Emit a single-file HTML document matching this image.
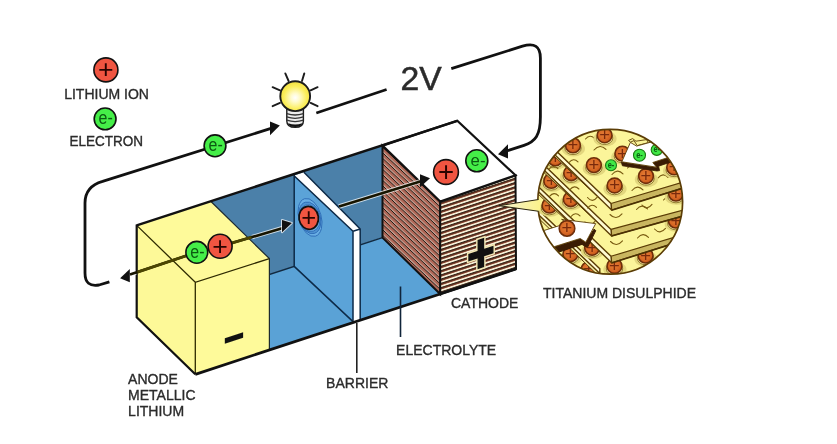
<!DOCTYPE html>
<html lang="en"><head><meta charset="utf-8"><title>Lithium battery</title>
<style>
html,body{margin:0;padding:0;background:#fff;}
body{width:837px;height:444px;overflow:hidden;}
svg{display:block;will-change:transform;}
text{font-family:"Liberation Sans",Arial,Helvetica,sans-serif;fill:#2b2b2b;}
.lbl{font-size:14px;stroke:#2b2b2b;stroke-width:0.35px;}
.ln{stroke:#111;fill:none;stroke-linejoin:miter;}
</style></head><body>
<svg width="837" height="444" viewBox="0 0 837 444">
<defs>
<radialGradient id="bulb" cx="0.5" cy="0.55" r="0.55">
<stop offset="0" stop-color="#ffffff"/><stop offset="0.25" stop-color="#fffbd0"/><stop offset="0.7" stop-color="#fbee5a"/><stop offset="1" stop-color="#f3e040"/>
</radialGradient>
<pattern id="stF" width="20" height="4.25" patternUnits="userSpaceOnUse" patternTransform="translate(440.2 200.6) skewY(-18.2)">
<rect width="20" height="4.25" fill="#87432f"/><rect y="0" width="20" height="1.9" fill="#f8f0d8"/><rect y="1.9" width="20" height="1.0" fill="#17150a"/>
</pattern>
<pattern id="stL" width="20" height="5.5" patternUnits="userSpaceOnUse" patternTransform="translate(382.5 147.6) skewY(43.2)">
<rect width="20" height="5.5" fill="#ad6656"/><rect y="3.4" width="20" height="1.0" fill="#f3e2d6"/><rect y="4.4" width="20" height="1.1" fill="#20150e"/>
</pattern>
<radialGradient id="ballg" cx="0.45" cy="0.42" r="0.6"><stop offset="0" stop-color="#e27c36"/><stop offset="0.6" stop-color="#d96a26"/><stop offset="1" stop-color="#c4541a"/></radialGradient>
<linearGradient id="wedge" x1="499" y1="0" x2="540" y2="0" gradientUnits="userSpaceOnUse"><stop offset="0" stop-color="#f3efc8"/><stop offset="0.5" stop-color="#f7f2b0"/><stop offset="1" stop-color="#fbf28c"/></linearGradient>
<clipPath id="cc"><circle cx="610.2" cy="201.8" r="72.4"/></clipPath>
</defs>
<rect width="837" height="444" fill="#fff"/>

<polygon points="210.7,201.2 382.5,145.6 382.5,237.6 210.7,293.7" fill="#4b80a9"/>
<polygon points="210.7,293.7 382.5,237.6 440.2,294.0 195.3,374.3" fill="#5aa2d6"/>
<polyline points="210.7,293.7 382.5,237.6" fill="none" stroke="#10283f" stroke-width="1.5"/>
<polygon points="294.2,176.0 353.0,231.2 353.0,321.6 294.2,266.4" fill="#5ba3d8"/>
<polygon points="294.2,175.4 297.2,174.4 303.9,172.2 360.2,229.0 360.2,320.0 353.0,322.0 353.0,231.2" fill="#fff"/>
<path d="M294.2,175 L294.2,266.4 L353,321.6 M294.6,176.2 L353,231.2 L353,321.8 M303.9,172.2 L360.2,229.0 L360.2,320 M353,231.2 L360.2,229.0" stroke="#0d2a48" stroke-width="1.5" fill="none" stroke-linejoin="round"/>
<g transform="rotate(-16 310 218.5)" fill="none" stroke="#2f6db6" stroke-width="0.9">
<ellipse cx="310.3" cy="217.5" rx="11.2" ry="19.5" fill="#69aee4"/>
<ellipse cx="310" cy="217.8" rx="10.6" ry="16.2" fill="#4f93d2"/>
<ellipse cx="309.6" cy="218" rx="10.2" ry="13.6" fill="#6db0e6"/>
</g>
<polygon points="382.5,145.6 440.2,201.6 440.2,294.0 382.5,237.6" fill="url(#stL)" stroke="#111" stroke-width="2"/>
<polygon points="440.2,201.6 515.5,175.3 516.0,269.0 440.2,294.0" fill="url(#stF)" stroke="#111" stroke-width="2"/>
<polygon points="382.5,145.6 457.3,120.8 515.5,175.3 440.2,201.6" fill="#fff" stroke="#111" stroke-width="2.2" stroke-linejoin="miter"/>
<g transform="translate(480.8 253.4) skewY(-18.2) scale(0.872 1)" font-weight="bold" font-size="54.5"><text x="-15.94" y="18.26" style="fill:#f3e8b4;stroke:#f3e8b4;stroke-width:4.8px;stroke-linejoin:miter">+</text><text x="-15.94" y="18.26" style="fill:#111;stroke:#111;stroke-width:1.6px;stroke-linejoin:miter">+</text></g>
<polygon points="136.7,225.4 210.7,201.2 269.4,258.6 269.4,349.9 195.3,374.3 136.7,317.4" fill="#fefa9a"/>
<polygon points="136.7,225.4 195.3,282.3 195.3,374.3 136.7,317.4" fill="#fdf998"/>
<path d="M136.7,225.4 L195.3,282.3 L269.4,258.6 M195.3,282.3 L195.3,374.3" stroke="#2e2a00" stroke-width="1.3" fill="none"/>
<path d="M210.7,201.2 L269.4,258.6 L269.4,349.9" stroke="#1c2a30" stroke-width="1.2" fill="none"/>
<path d="M136.7,224.4 L136.7,317.4 L195.3,374.3" stroke="#111" stroke-width="2.2" fill="none"/>
<g transform="translate(234.1 338) skewY(-18.2) scale(1.545 1)"><text x="-7.82" y="12.14" font-weight="bold" font-size="46.7" style="fill:#111">-</text></g>
<polyline class="ln" stroke-width="2.4" points="136.7,225.4 457.3,120.8"/>
<polyline class="ln" stroke-width="2.8" points="195.3,374.3 440.2,294.0 516.0,269.0"/>
<path class="ln" stroke-width="2.8" d="M109.4,281.8 L99,285 Q85,287.5 85,273 L85,203 Q85,186.5 102.6,181.4 L271,128.4"/>
<polygon points="279.8,125.5 270.0,121.6 270.0,135.2" fill="#111"/>
<path class="ln" stroke-width="2.8" d="M316.3,113.0 L386.6,89.5"/>
<path class="ln" stroke-width="2.8" d="M451.3,68.7 L522.5,46.2 Q540.4,40.6 540.4,58 L540.4,117 C540.4,135 535.5,141.5 524,145.4 L507.7,150.6"/>
<polygon points="498.0,154.3 508.0,144.3 508.0,158.5" fill="#111"/>
<line x1="252" y1="237.1" x2="283" y2="228" stroke="#fff" stroke-opacity="0.72" stroke-width="4.5"/>
<line x1="230" y1="243.6" x2="283" y2="228" stroke="#171500" stroke-width="2.6"/>
<line x1="230" y1="243.6" x2="251.5" y2="237.3" stroke="#4c4600" stroke-width="2.7"/>
<polygon points="291.8,222.9 282.0,220.0 282.0,232.2" fill="#111" stroke="#fff" stroke-opacity="0.72" stroke-width="2.0" stroke-linejoin="round"/>
<polygon points="291.8,222.9 282.0,220.0 282.0,232.2" fill="#111"/>
<line x1="339" y1="206.5" x2="421" y2="181.2" stroke="#fff" stroke-opacity="0.72" stroke-width="4.5"/>
<line x1="339" y1="206.5" x2="421" y2="181.2" stroke="#171500" stroke-width="2.6"/>
<polygon points="430.0,178.2 420.0,174.3 420.0,187.2" fill="#111"/>
<line x1="136" y1="272.6" x2="130" y2="274.6" stroke="#fff" stroke-opacity="0.72" stroke-width="4.5"/>
<line x1="190" y1="254.5" x2="130" y2="274.6" stroke="#171500" stroke-width="2.6"/>
<line x1="190" y1="254.5" x2="137.5" y2="272.1" stroke="#4c4600" stroke-width="2.7"/>
<polygon points="120.1,278.2 129.8,269.0 129.8,282.2" fill="#111"/>
<circle cx="105.9" cy="69.9" r="12.0" fill="#f05541" stroke="#111" stroke-width="1.6"/>
<text x="98.08" y="78.40" font-size="26.7" style="fill:#2a0400">+</text>
<circle cx="105.1" cy="118.9" r="10.9" fill="#45ee48" stroke="#111" stroke-width="1.6"/>
<text transform="translate(105.7 124.1) scale(1 1.1)" font-size="16" text-anchor="middle" style="fill:#0c5a12">e-</text>
<circle cx="215.0" cy="145.8" r="10.9" fill="#45ee48" stroke="#111" stroke-width="1.6"/>
<text transform="translate(215.6 151.0) scale(1 1.1)" font-size="16" text-anchor="middle" style="fill:#0c5a12">e-</text>
<circle cx="196.8" cy="252.3" r="10.9" fill="#45ee48" stroke="#111" stroke-width="1.6"/>
<text transform="translate(197.4 257.5) scale(1 1.1)" font-size="16" text-anchor="middle" style="fill:#0c5a12">e-</text>
<circle cx="220.1" cy="246.3" r="12.0" fill="#f05541" stroke="#111" stroke-width="1.6"/>
<text x="212.28" y="254.80" font-size="26.7" style="fill:#2a0400">+</text>
<ellipse cx="308.7" cy="217.9" rx="9.7" ry="11.5" transform="rotate(-10 308.7 217.9)" fill="#f05541" stroke="#111" stroke-width="1.7"/>
<text x="301.22" y="226.01" font-size="25.6" style="fill:#2a0400">+</text>
<circle cx="446" cy="172" r="12.4" fill="#f05541" stroke="#111" stroke-width="1.6"/>
<text x="437.92" y="180.80" font-size="27.6" style="fill:#2a0400">+</text>
<circle cx="476.8" cy="160.8" r="11.0" fill="#45ee48" stroke="#111" stroke-width="1.6"/>
<text transform="translate(478.0 165.9) scale(1 1.0)" font-size="16.8" text-anchor="middle" style="fill:#0c5a12">e-</text>
<g stroke="#1c1c1c" stroke-width="1.9" stroke-linecap="round" fill="none">
<line x1="285.3" y1="73.4" x2="288.6" y2="81.0"/>
<line x1="304.3" y1="73.4" x2="302.0" y2="81.0"/>
<line x1="272.6" y1="87.2" x2="280.0" y2="90.3"/>
<line x1="317.6" y1="87.2" x2="310.6" y2="90.3"/>
<line x1="272.6" y1="106.2" x2="280.0" y2="102.9"/>
<line x1="317.6" y1="106.2" x2="310.6" y2="102.9"/>
</g>
<path d="M286.8,108 L286.8,121 Q286.8,127.4 295.2,127.4 Q303.4,127.4 303.4,121 L303.4,108 Z" fill="#ececec" stroke="#1c1c1c" stroke-width="1.4"/>
<path d="M288.2,123.2 Q295.2,126 302.2,123.2 Q301.4,127 295.2,127 Q289,127 288.2,123.2 Z" fill="#111"/>
<g stroke="#333" stroke-width="1.3" fill="none"><path d="M286.8,113.6 Q295,116.4 303.4,113.6"/><path d="M286.8,116.9 Q295,119.7 303.4,116.9"/><path d="M286.8,120.2 Q295,123 303.4,120.2"/></g>
<circle cx="295.2" cy="96.2" r="14.9" fill="url(#bulb)" stroke="#1c1c1c" stroke-width="1.9"/>
<line x1="400.5" y1="286.5" x2="400.5" y2="337" stroke="#10243a" stroke-width="1.6"/>
<line x1="356.8" y1="323" x2="356.8" y2="373" stroke="#222" stroke-width="1.6"/>
<circle cx="610.2" cy="201.8" r="72.4" fill="#fbf59a"/>
<g clip-path="url(#cc)">
<rect x="530" y="120" width="160" height="160" fill="#fbf59a"/>
<ellipse cx="589.0" cy="272.8" rx="11.6" ry="7.8" fill="#e3d77e"/>
<ellipse cx="588.6" cy="272.2" rx="8.2" ry="6.4" fill="#f4eaa4" stroke="#7a6418" stroke-width="0.8"/>
<circle cx="588.6" cy="269.4" r="7.4" fill="url(#ballg)" stroke="#6e2e0a" stroke-width="1.6"/>
<text x="583.22" y="275.36" font-size="18.4" style="fill:#7a2a0c">+</text>
<ellipse cx="570.8" cy="257.6" rx="11.6" ry="7.8" fill="#e3d77e"/>
<ellipse cx="570.4" cy="257.0" rx="8.2" ry="6.4" fill="#f4eaa4" stroke="#7a6418" stroke-width="0.8"/>
<circle cx="570.4" cy="254.2" r="7.4" fill="url(#ballg)" stroke="#6e2e0a" stroke-width="1.6"/>
<text x="565.02" y="260.16" font-size="18.4" style="fill:#7a2a0c">+</text>
<polygon points="599.8,273.5 520,196.9 520,200.5 599.8,277.1" fill="#f6eda0" stroke="#5b3d06" stroke-width="1.0"/>
<polygon points="599.8,268.8 520,192.2 520,196.9 599.8,273.5" fill="#fffbd2" stroke="#5b3d06" stroke-width="1.4"/>
<ellipse cx="614.9" cy="269.4" rx="11.6" ry="7.8" fill="#e3d77e"/>
<ellipse cx="614.5" cy="268.8" rx="8.2" ry="6.4" fill="#f4eaa4" stroke="#7a6418" stroke-width="0.8"/>
<circle cx="614.5" cy="266.0" r="7.4" fill="url(#ballg)" stroke="#6e2e0a" stroke-width="1.6"/>
<text x="609.12" y="271.96" font-size="18.4" style="fill:#7a2a0c">+</text>
<ellipse cx="646.0" cy="259.0" rx="11.6" ry="7.8" fill="#e3d77e"/>
<ellipse cx="645.6" cy="258.4" rx="8.2" ry="6.4" fill="#f4eaa4" stroke="#7a6418" stroke-width="0.8"/>
<circle cx="645.6" cy="255.6" r="7.4" fill="url(#ballg)" stroke="#6e2e0a" stroke-width="1.6"/>
<text x="640.22" y="261.56" font-size="18.4" style="fill:#7a2a0c">+</text>
<ellipse cx="592.5" cy="251.2" rx="11.6" ry="7.8" fill="#e3d77e"/>
<ellipse cx="592.1" cy="250.6" rx="8.2" ry="6.4" fill="#f4eaa4" stroke="#7a6418" stroke-width="0.8"/>
<circle cx="592.1" cy="247.8" r="7.4" fill="url(#ballg)" stroke="#6e2e0a" stroke-width="1.6"/>
<text x="586.72" y="253.76" font-size="18.4" style="fill:#7a2a0c">+</text>
<ellipse cx="549.9" cy="209.0" rx="11.6" ry="7.8" fill="#e3d77e"/>
<ellipse cx="549.5" cy="208.4" rx="8.2" ry="6.4" fill="#f4eaa4" stroke="#7a6418" stroke-width="0.8"/>
<circle cx="549.5" cy="205.6" r="7.4" fill="url(#ballg)" stroke="#6e2e0a" stroke-width="1.6"/>
<text x="544.12" y="211.56" font-size="18.4" style="fill:#7a2a0c">+</text>
<polygon points="611.0,256.3 700,229.4 700,189.4 520,128.9 520,168.9" fill="#fbf59a"/>
<polygon points="611.0,256.3 700,229.4 700,235.0 611.6,262.8" fill="#c9b660" stroke="#5b3d06" stroke-width="1.2" stroke-linejoin="round"/>
<line x1="611.6" y1="263.0" x2="700" y2="235.2" stroke="#4a3004" stroke-width="1.6"/>
<polygon points="602.0,253.5 520,173.6 520,177.2" fill="#f6eda0" stroke="#5b3d06" stroke-width="1.0" stroke-linejoin="round"/>
<polygon points="611.0,256.3 520,168.9 520,173.6 611.6,262.8" fill="#fffbd2" stroke="#5b3d06" stroke-width="1.4" stroke-linejoin="round"/>
<path d="M610.5,241.5 q6.0,6.4 12.0,-0.6" stroke="#7a5c12" stroke-width="1.1" fill="none" stroke-linecap="round"/>
<path d="M637.5,238.0 q5.5,-6.4 11.0,-0.6" stroke="#7a5c12" stroke-width="1.1" fill="none" stroke-linecap="round"/>
<path d="M654.5,229.0 q5.5,6.0 11.0,-0.6" stroke="#7a5c12" stroke-width="1.1" fill="none" stroke-linecap="round"/>
<ellipse cx="676.2" cy="224.0" rx="11.6" ry="7.8" fill="#e3d77e"/>
<ellipse cx="675.8" cy="223.4" rx="8.2" ry="6.4" fill="#f4eaa4" stroke="#7a6418" stroke-width="0.8"/>
<circle cx="675.8" cy="220.6" r="7.4" fill="url(#ballg)" stroke="#6e2e0a" stroke-width="1.6"/>
<text x="670.42" y="226.56" font-size="18.4" style="fill:#7a2a0c">+</text>
<ellipse cx="551.7" cy="184.3" rx="11.6" ry="7.8" fill="#e3d77e"/>
<ellipse cx="551.3" cy="183.7" rx="8.2" ry="6.4" fill="#f4eaa4" stroke="#7a6418" stroke-width="0.8"/>
<circle cx="551.3" cy="180.9" r="7.4" fill="url(#ballg)" stroke="#6e2e0a" stroke-width="1.6"/>
<text x="545.92" y="186.86" font-size="18.4" style="fill:#7a2a0c">+</text>
<ellipse cx="571.2" cy="202.6" rx="11.6" ry="7.8" fill="#e3d77e"/>
<ellipse cx="570.8" cy="202.0" rx="8.2" ry="6.4" fill="#f4eaa4" stroke="#7a6418" stroke-width="0.8"/>
<circle cx="570.8" cy="199.2" r="7.4" fill="url(#ballg)" stroke="#6e2e0a" stroke-width="1.6"/>
<text x="565.42" y="205.16" font-size="18.4" style="fill:#7a2a0c">+</text>
<path d="M549.5,196.4 q4.5,-5.2 9.0,-0.6" stroke="#7a5c12" stroke-width="1.1" fill="none" stroke-linecap="round"/>
<path d="M571.0,216.5 q4.5,-5.2 9.0,-0.6" stroke="#7a5c12" stroke-width="1.1" fill="none" stroke-linecap="round"/>
<polygon points="611.0,229.4 700,205.5 700,165.5 520,102.0 520,142.0" fill="#fbf59a"/>
<polygon points="611.0,229.4 700,205.5 700,211.1 611.6,235.9" fill="#c9b660" stroke="#5b3d06" stroke-width="1.2" stroke-linejoin="round"/>
<line x1="611.6" y1="236.1" x2="700" y2="211.3" stroke="#4a3004" stroke-width="1.6"/>
<polygon points="602.0,226.6 520,146.7 520,150.3" fill="#f6eda0" stroke="#5b3d06" stroke-width="1.0" stroke-linejoin="round"/>
<polygon points="611.0,229.4 520,142.0 520,146.7 611.6,235.9" fill="#fffbd2" stroke="#5b3d06" stroke-width="1.4" stroke-linejoin="round"/>
<path d="M585.0,222.0 q5.0,6.0 10.0,-0.6" stroke="#7a5c12" stroke-width="1.1" fill="none" stroke-linecap="round"/>
<path d="M610.0,214.5 q6.0,6.4 12.0,-0.6" stroke="#7a5c12" stroke-width="1.1" fill="none" stroke-linecap="round"/>
<path d="M636.5,209.5 q5.5,-6.4 11.0,-0.6" stroke="#7a5c12" stroke-width="1.1" fill="none" stroke-linecap="round"/>
<path d="M642.0,205.0 q5.0,6.0 10.0,-0.6" stroke="#7a5c12" stroke-width="1.1" fill="none" stroke-linecap="round"/>
<path d="M663.5,200.0 q5.5,-6.4 11.0,-0.6" stroke="#7a5c12" stroke-width="1.1" fill="none" stroke-linecap="round"/>
<path d="M587.5,208.0 q4.5,-5.2 9.0,-0.6" stroke="#7a5c12" stroke-width="1.1" fill="none" stroke-linecap="round"/>
<ellipse cx="676.4" cy="197.0" rx="11.6" ry="7.8" fill="#e3d77e"/>
<ellipse cx="676.0" cy="196.4" rx="8.2" ry="6.4" fill="#f4eaa4" stroke="#7a6418" stroke-width="0.8"/>
<circle cx="676.0" cy="193.6" r="7.4" fill="url(#ballg)" stroke="#6e2e0a" stroke-width="1.6"/>
<text x="670.62" y="199.56" font-size="18.4" style="fill:#7a2a0c">+</text>
<ellipse cx="555.7" cy="161.8" rx="11.6" ry="7.8" fill="#e3d77e"/>
<ellipse cx="555.3" cy="161.2" rx="8.2" ry="6.4" fill="#f4eaa4" stroke="#7a6418" stroke-width="0.8"/>
<circle cx="555.3" cy="158.4" r="7.4" fill="url(#ballg)" stroke="#6e2e0a" stroke-width="1.6"/>
<text x="549.92" y="164.36" font-size="18.4" style="fill:#7a2a0c">+</text>
<ellipse cx="571.6" cy="176.6" rx="11.6" ry="7.8" fill="#e3d77e"/>
<ellipse cx="571.2" cy="176.0" rx="8.2" ry="6.4" fill="#f4eaa4" stroke="#7a6418" stroke-width="0.8"/>
<circle cx="571.2" cy="173.2" r="7.4" fill="url(#ballg)" stroke="#6e2e0a" stroke-width="1.6"/>
<text x="565.82" y="179.16" font-size="18.4" style="fill:#7a2a0c">+</text>
<path d="M548.9,169.2 q4.5,-5.2 9.0,-0.6" stroke="#7a5c12" stroke-width="1.1" fill="none" stroke-linecap="round"/>
<path d="M569.9,189.6 q4.5,-5.2 9.0,-0.6" stroke="#7a5c12" stroke-width="1.1" fill="none" stroke-linecap="round"/>
<polygon points="611.0,203.5 700,177.0 700,137.0 520,76.1 520,116.1" fill="#fbf59a"/>
<polygon points="611.0,203.5 700,177.0 700,182.6 611.6,210.0" fill="#c9b660" stroke="#5b3d06" stroke-width="1.2" stroke-linejoin="round"/>
<line x1="611.6" y1="210.2" x2="700" y2="182.8" stroke="#4a3004" stroke-width="1.6"/>
<polygon points="602.0,200.7 520,120.8 520,124.4" fill="#f6eda0" stroke="#5b3d06" stroke-width="1.0" stroke-linejoin="round"/>
<polygon points="611.0,203.5 520,116.1 520,120.8 611.6,210.0" fill="#fffbd2" stroke="#5b3d06" stroke-width="1.4" stroke-linejoin="round"/>
<path d="M594.0,150.0 q6.0,-6.8 12.0,-0.6" stroke="#7a5c12" stroke-width="1.1" fill="none" stroke-linecap="round"/>
<path d="M612.0,174.5 q5.5,-6.4 11.0,-0.6" stroke="#7a5c12" stroke-width="1.1" fill="none" stroke-linecap="round"/>
<path d="M587.5,197.5 q5.0,6.0 10.0,-0.6" stroke="#7a5c12" stroke-width="1.1" fill="none" stroke-linecap="round"/>
<path d="M632.0,190.5 q5.5,-6.4 11.0,-0.6" stroke="#7a5c12" stroke-width="1.1" fill="none" stroke-linecap="round"/>
<path d="M627.5,168.0 q4.5,-5.2 9.0,-0.6" stroke="#7a5c12" stroke-width="1.1" fill="none" stroke-linecap="round"/>
<path d="M658.0,178.0 q5.0,-6.0 10.0,-0.6" stroke="#7a5c12" stroke-width="1.1" fill="none" stroke-linecap="round"/>
<path d="M585.5,139.0 q4.5,-5.2 9.0,-0.6" stroke="#7a5c12" stroke-width="1.1" fill="none" stroke-linecap="round"/>
<path d="M569.0,162.5 q4.5,-5.2 9.0,-0.6" stroke="#7a5c12" stroke-width="1.1" fill="none" stroke-linecap="round"/>
<ellipse cx="605.0" cy="138.7" rx="11.6" ry="7.8" fill="#e3d77e"/>
<ellipse cx="604.6" cy="138.1" rx="8.2" ry="6.4" fill="#f4eaa4" stroke="#7a6418" stroke-width="0.8"/>
<circle cx="604.6" cy="135.3" r="7.4" fill="url(#ballg)" stroke="#6e2e0a" stroke-width="1.6"/>
<text x="599.22" y="141.26" font-size="18.4" style="fill:#7a2a0c">+</text>
<ellipse cx="573.4" cy="148.8" rx="11.6" ry="7.8" fill="#e3d77e"/>
<ellipse cx="573.0" cy="148.2" rx="8.2" ry="6.4" fill="#f4eaa4" stroke="#7a6418" stroke-width="0.8"/>
<circle cx="573.0" cy="145.4" r="7.4" fill="url(#ballg)" stroke="#6e2e0a" stroke-width="1.6"/>
<text x="567.62" y="151.36" font-size="18.4" style="fill:#7a2a0c">+</text>
<ellipse cx="594.3" cy="168.5" rx="11.6" ry="7.8" fill="#e3d77e"/>
<ellipse cx="593.9" cy="167.9" rx="8.2" ry="6.4" fill="#f4eaa4" stroke="#7a6418" stroke-width="0.8"/>
<circle cx="593.9" cy="165.1" r="7.4" fill="url(#ballg)" stroke="#6e2e0a" stroke-width="1.6"/>
<text x="588.52" y="171.06" font-size="18.4" style="fill:#7a2a0c">+</text>
<ellipse cx="615.0" cy="188.9" rx="11.6" ry="7.8" fill="#e3d77e"/>
<ellipse cx="614.6" cy="188.3" rx="8.2" ry="6.4" fill="#f4eaa4" stroke="#7a6418" stroke-width="0.8"/>
<circle cx="614.6" cy="185.5" r="7.4" fill="url(#ballg)" stroke="#6e2e0a" stroke-width="1.6"/>
<text x="609.22" y="191.46" font-size="18.4" style="fill:#7a2a0c">+</text>
<ellipse cx="622.8" cy="157.0" rx="11.6" ry="7.8" fill="#e3d77e"/>
<ellipse cx="622.4" cy="156.4" rx="8.2" ry="6.4" fill="#f4eaa4" stroke="#7a6418" stroke-width="0.8"/>
<circle cx="622.4" cy="153.6" r="7.4" fill="url(#ballg)" stroke="#6e2e0a" stroke-width="1.6"/>
<text x="617.02" y="159.56" font-size="18.4" style="fill:#7a2a0c">+</text>
<ellipse cx="646.4" cy="179.4" rx="11.6" ry="7.8" fill="#e3d77e"/>
<ellipse cx="646.0" cy="178.8" rx="8.2" ry="6.4" fill="#f4eaa4" stroke="#7a6418" stroke-width="0.8"/>
<circle cx="646.0" cy="176.0" r="7.4" fill="url(#ballg)" stroke="#6e2e0a" stroke-width="1.6"/>
<text x="640.62" y="181.96" font-size="18.4" style="fill:#7a2a0c">+</text>
<ellipse cx="674.6" cy="170.8" rx="11.6" ry="7.8" fill="#e3d77e"/>
<ellipse cx="674.2" cy="170.2" rx="8.2" ry="6.4" fill="#f4eaa4" stroke="#7a6418" stroke-width="0.8"/>
<circle cx="674.2" cy="167.4" r="7.4" fill="url(#ballg)" stroke="#6e2e0a" stroke-width="1.6"/>
<text x="668.82" y="173.36" font-size="18.4" style="fill:#7a2a0c">+</text>
<circle cx="611.0" cy="165.3" r="5.5" fill="#3fe846" stroke="#1c7a14" stroke-width="1.1"/>
<text transform="translate(611.0 167.7) scale(1 1.1)" font-size="7.5" text-anchor="middle" style="fill:#0c5a12;font-weight:bold">e-</text>
<polygon points="621.4,162.2 656.5,167.4 652.8,162.8 690,150.8 690,155.6 658.6,166.2 659.6,170.6 657,171 622.4,165.8" fill="#3a1c04" stroke="#3a1c04" stroke-width="0.8" stroke-linejoin="round"/>
<polygon points="630.4,142.2 634,140.6 637.2,145.6 648.4,142.6 646.5,139.6 636,141.2 632.6,138.6 628.6,140.4" fill="#fbf59a" stroke="#5b3d06" stroke-width="0.9" stroke-linejoin="round"/>
<polygon points="621.8,161.8 630.4,142.4 636.6,146.1 690,131.2 690,150.3 652.8,162.5 656.5,167.2" fill="#ffffff" stroke="#5b3d06" stroke-width="0.9" stroke-linejoin="round"/>
<circle cx="639.5" cy="155.2" r="6.0" fill="#3fe846" stroke="#1c7a14" stroke-width="1.1"/>
<text transform="translate(639.5 157.6) scale(1 1.1)" font-size="7.5" text-anchor="middle" style="fill:#0c5a12;font-weight:bold">e-</text>
<circle cx="656.8" cy="149.8" r="5.6" fill="#3fe846" stroke="#1c7a14" stroke-width="1.1"/>
<text transform="translate(656.8 152.2) scale(1 1.1)" font-size="7.5" text-anchor="middle" style="fill:#0c5a12;font-weight:bold">e-</text>
<polygon points="554.8,246.9 580.6,238.7 585.4,242.6 594.0,229.2 595.8,230.6 587.4,247.6 582.0,244.4 559.0,252.0" fill="#3a1c04" stroke="#3a1c04" stroke-width="1" stroke-linejoin="round"/>
<polygon points="520,238.0 544.3,230.4 567.2,223.2 561.6,219.4 595.7,223.6 585.8,242.2 580.2,238.5 554.8,246.5 520,257.5" fill="#ffffff" stroke="#5b3d06" stroke-width="0.9" stroke-linejoin="round"/>
<circle cx="567.0" cy="228.4" r="7.8" fill="url(#ballg)" stroke="#6e2e0a" stroke-width="1.6"/>
<text x="561.62" y="234.36" font-size="18.4" style="fill:#7a2a0c">+</text>
</g>
<circle cx="610.2" cy="201.8" r="72.4" fill="none" stroke="#5b3d06" stroke-width="1.7"/>
<polygon points="499,205.7 539.2,199.3 540.4,203 540.4,208 539.4,211.4" fill="url(#wedge)"/>
<path d="M538.6,199.5 L499,205.7 L538.8,211.3" fill="none" stroke="#2a2410" stroke-width="1" stroke-linejoin="round"/>
<text x="400.6" y="90.2" font-size="33.7" style="stroke:#2b2b2b;stroke-width:0.5px">2V</text>
<text class="lbl" x="64.2" y="99.2">LITHIUM ION</text>
<text class="lbl" x="69.4" y="145.7" textLength="73.6" lengthAdjust="spacingAndGlyphs">ELECTRON</text>
<text class="lbl" x="451" y="308.3">CATHODE</text>
<text class="lbl" x="543" y="297.5">TITANIUM DISULPHIDE</text>
<text class="lbl" x="396.1" y="355.1">ELECTROLYTE</text>
<text class="lbl" x="326.1" y="388.1">BARRIER</text>
<text class="lbl" x="128.1" y="384.1">ANODE</text>
<text class="lbl" x="128.1" y="400.3">METALLIC</text>
<text class="lbl" x="128.1" y="416.3">LITHIUM</text>
</svg>
</body></html>
